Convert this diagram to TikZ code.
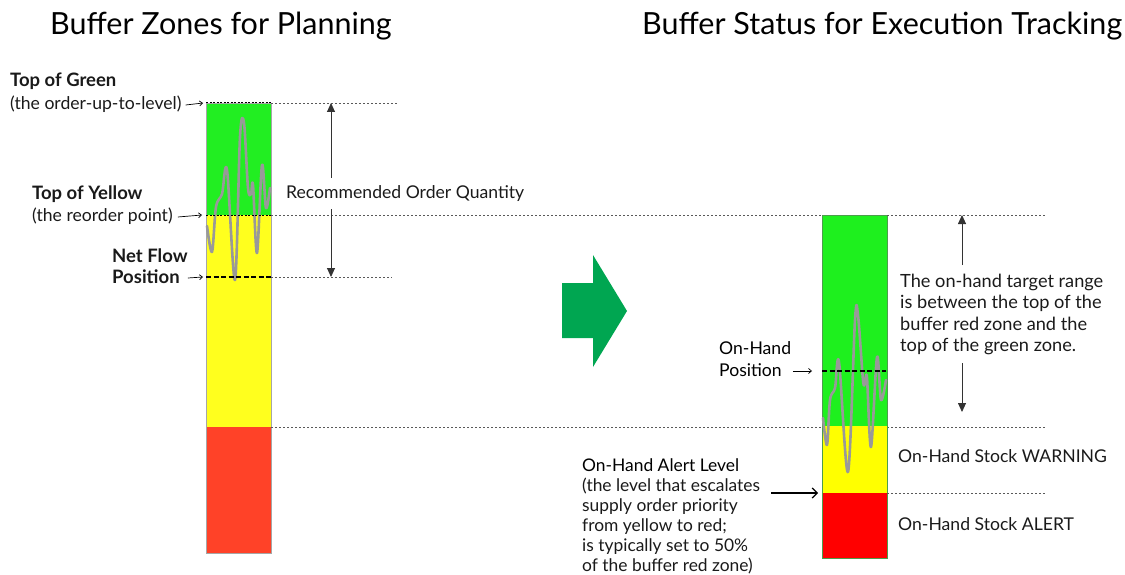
\documentclass[tikz,border=0pt]{standalone}
\usepackage{fontspec}
\setmainfont{Lato}
\usetikzlibrary{arrows.meta}
\definecolor{gL}{HTML}{22EE22}
\definecolor{yL}{HTML}{FFFF1E}
\definecolor{rL}{HTML}{FF4228}
\definecolor{gR}{HTML}{1EF01E}
\definecolor{yR}{HTML}{FFFF00}
\definecolor{rR}{HTML}{FF0000}
\definecolor{txt}{HTML}{1A1A1A}
\definecolor{squig}{HTML}{999999}
\definecolor{bigarrow}{HTML}{00A651}
\begin{document}
\begin{tikzpicture}[x=1pt,y=-1pt,
  ttl/.style={anchor=base west,inner sep=0,font=\fontsize{30.5}{36}\selectfont,text=black},
  lbl/.style={anchor=base west,inner sep=0,font=\fontsize{17.6}{22}\selectfont,text=txt,align=left},
  blbl/.style={lbl,font=\fontsize{18.5}{22}\selectfont\bfseries},
  guide/.style={draw=black!65,dash pattern=on 2pt off 2pt,line width=0.8pt},
  levelmark/.style={draw=black,dash pattern=on 2pt off 1.5pt,line width=1pt},
  posmark/.style={draw=black,dash pattern=on 5pt off 2.5pt,line width=1.6pt},
  smallarr/.style={draw=black,line width=0.7pt,-{Straight Barb[length=3pt,width=5pt]}},
  dimarr/.style={draw=black!80,line width=0.9pt,-{Triangle[length=9pt,width=8pt]}},
  squiggle/.style={draw=squig,line width=2.6pt,line join=round,line cap=round},
]
\useasboundingbox (0,0) rectangle (1125,575);

% titles
\node[ttl] (t1) at (50,35) {Buffer Zones for Planning};
\node[ttl] (t2) at (642,35) {Buffer Status for Execution Tracking};

% ---------- left bar ----------
\fill[gL] (206,103) rectangle (271,215);
\fill[yL] (206,215) rectangle (271,427);
\fill[rL] (206,427) rectangle (271,553);
\draw[black!35,line width=0.8pt] (206,103) rectangle (271,553);

\draw[squiggle] plot[smooth,tension=0.55] coordinates {(207,226) (212,252) (216,207) (222,194) (227,170) (235,280) (240,137) (244,123) (248,188) (251,194) (253,185) (257,253) (262,165) (266,208) (270,188)};

\path[levelmark] (206,103) -- (271,103);
\path[levelmark] (206,215) -- (271,215);
\path[posmark] (206,277) -- (271,277);
\path[guide] (271,103) -- (398,103);
\path[guide] (271,215) -- (1045,215);
\path[guide] (271,277) -- (392,277);
\path[guide] (271,427) -- (1045,427);

% left labels
\node[blbl] (topg) at (10,87) {Top of Green};
\node[lbl] (topgs) at (10,110) {(the order-up-to-level)};
\draw[smallarr] (topgs.base east) ++(4,-5) -- (203,103);
\node[blbl] (topy) at (32,200) {Top of Yellow};
\node[lbl] (topys) at (32,222) {(the reorder point)};
\draw[smallarr] (topys.base east) ++(5,-5) -- (202,215);
\node[blbl] (nf) at (112,262) {Net Flow};
\node[blbl] (nfp) at (112,283) {Position};
\draw[smallarr] (nfp.base east) ++(8,-5) -- (203,277);

% recommended order quantity
\node[lbl] (roq) at (286,198) {Recommended Order Quantity};
\coordinate (roqT) at (331,103);
\coordinate (roqB) at (331,277);
\draw[dimarr] (331,178) -- (roqT);
\draw[dimarr] (331,209) -- (roqB);

% big arrow
\fill[bigarrow] (562,283) -- (593,283) -- (593,255) -- (627,311) -- (593,367) -- (593,338) -- (562,338) -- cycle;

% ---------- right bar ----------
\fill[gR] (822,215) rectangle (887,426);
\fill[yR] (822,426) rectangle (887,493);
\fill[rR] (822,493) rectangle (887,558);
\draw[green!45!black!70,line width=0.8pt] (822,215) rectangle (887,558);

\draw[squiggle] plot[smooth,tension=0.55] coordinates {(823,418) (827,445) (830,400) (835,388) (839,362) (848,472) (855,320) (858,315) (863,380) (865,383) (867,378) (871,447) (877,357) (881,400) (886,380)};

\path[posmark] (822,371) -- (886,371);
\path[guide] (887,215) -- (1045,215);
\path[guide] (887,493) -- (1045,493);

% right labels
\node[lbl,text=black] (ohp1) at (719,354) {On-Hand};
\node[lbl,text=black] (ohp2) at (719,376) {Position};
\draw[smallarr] (ohp2.base east) ++(11,-5) -- (812,371);

\node[lbl,font=\fontsize{18.2}{21.5}\selectfont] (range) at (900,351.5) {The on-hand target range\\is between the top of the\\buffer red zone and the\\top of the green zone.};
\coordinate (rT) at (962,215);
\coordinate (rB) at (962,412);
\draw[dimarr] (962,265) -- (rT);
\draw[dimarr] (962,363) -- (rB);

\node[lbl] (warn) at (898,462) {On-Hand Stock WARNING};
\node[lbl] (alert) at (898,530) {On-Hand Stock ALERT};

\node[lbl,font=\fontsize{17.4}{20}\selectfont] (alvl) at (582,571) {{\color{black}On-Hand Alert Level}\\(the level that escalates\\supply order priority\\from yellow to red;\\is typically set to 50\%\\of the buffer red zone)};
\draw[line width=1.2pt,-{Straight Barb[length=5pt,width=10pt]}] (771,493) -- (818,493);
\end{tikzpicture}
\end{document}
